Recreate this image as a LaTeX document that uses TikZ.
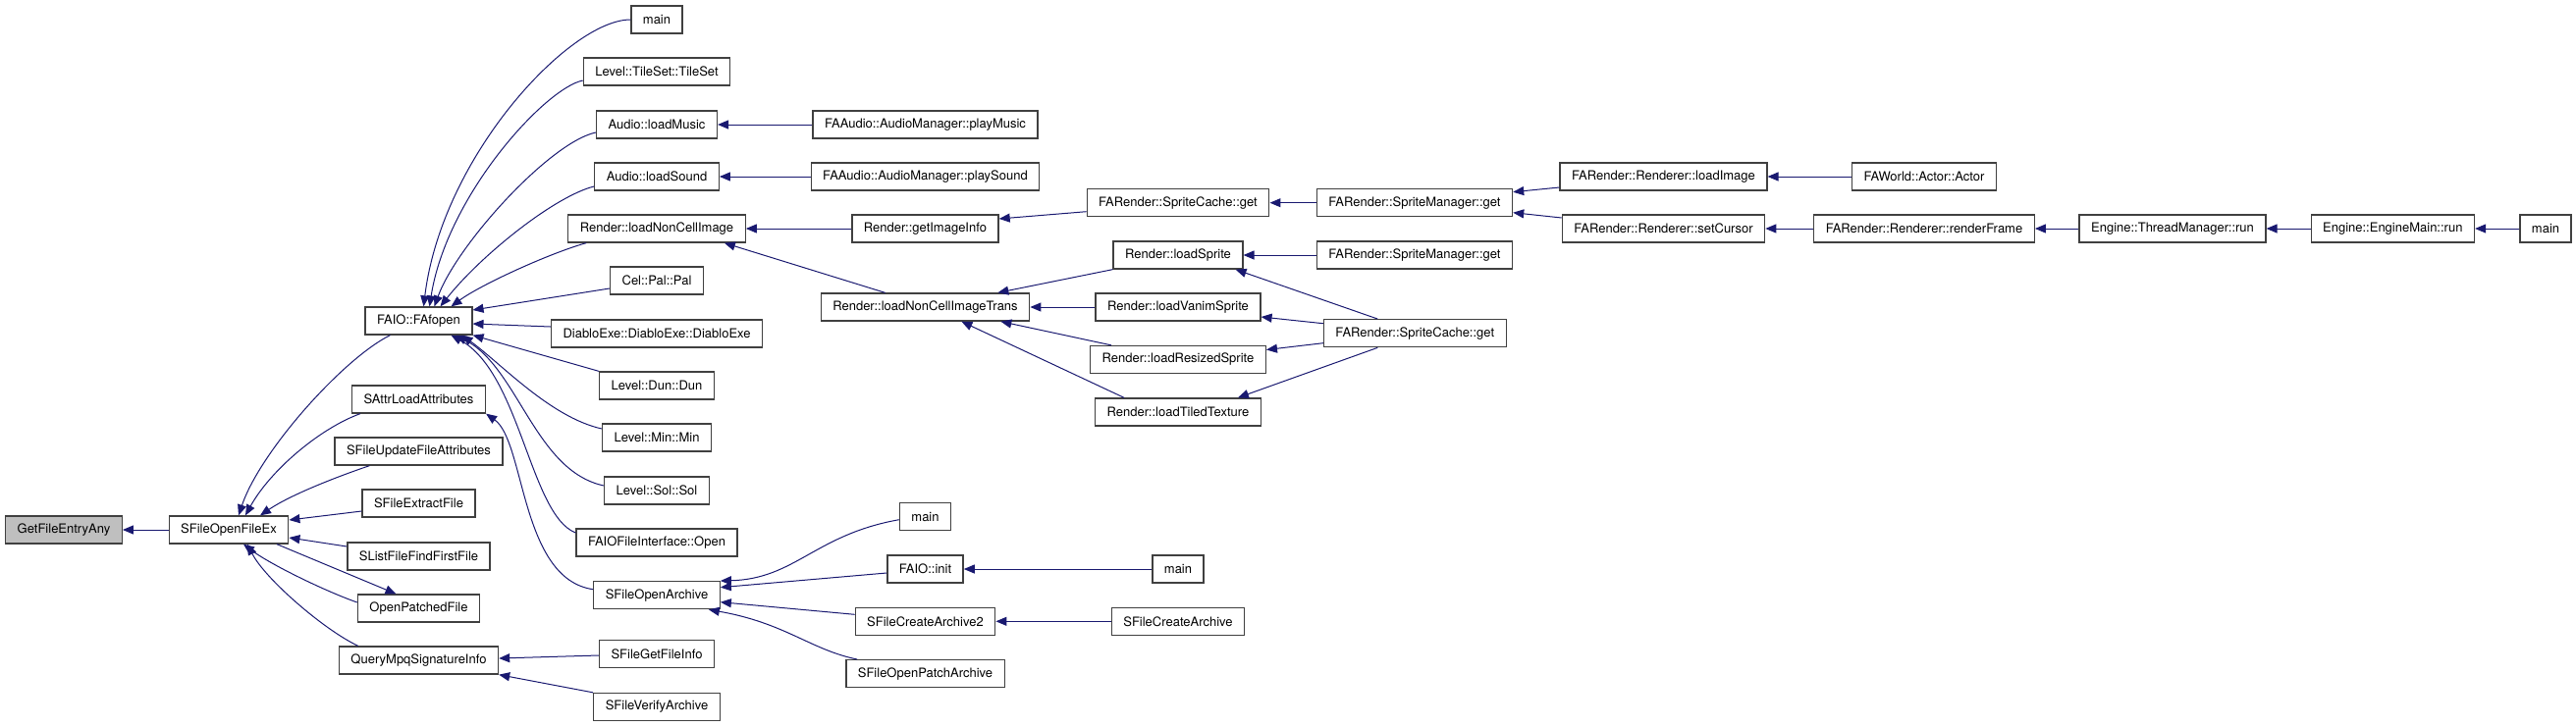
\documentclass[tikz,border=0pt]{standalone}
\usepackage{fontspec}
\setmainfont{TeX Gyre Heros}
\usepackage{tikz}
\usetikzlibrary{arrows.meta}
\definecolor{CallBlue}{HTML}{191970}
\definecolor{BoxLine}{HTML}{404040}
\definecolor{RootFill}{HTML}{BFBFBF}
\tikzset{
  fnbox/.style={draw=BoxLine,line width=1.3pt,fill=white,rectangle,inner xsep=12pt,
    inner ysep=0pt,minimum height=28pt,font=\fontsize{13}{15}\selectfont},
  rootbox/.style={fnbox,fill=RootFill},
  callflow/.style={-{Triangle[length=11pt,width=9pt]},line width=1pt,draw=CallBlue}
}

\begin{document}
\begin{tikzpicture}[x=1pt,y=1pt]
  \useasboundingbox (0,0) rectangle (2624,-740);
  % columns 0-2
  \node[rootbox] (gfe) at (65,-540) {GetFileEntryAny};
  \node[fnbox] (sopen) at (233,-540) {SFileOpenFileEx};
  \node[fnbox] (fafopen) at (426.5,-327) {FAIO::FAfopen};
  \node[fnbox] (sattr) at (426.5,-407) {SAttrLoadAttributes};
  \node[fnbox] (supd) at (426.5,-460) {SFileUpdateFileAttributes};
  \node[fnbox] (sextr) at (426.5,-513) {SFileExtractFile};
  \node[fnbox] (slist) at (426.5,-567) {SListFileFindFirstFile};
  \node[fnbox] (opatch) at (426.5,-620) {OpenPatchedFile};
  \node[fnbox] (qmpq) at (426.5,-673) {QueryMpqSignatureInfo};
  % column 3
  \node[fnbox] (mainA) at (669,-20) {main};
  \node[fnbox] (tileset) at (669,-73) {Level::TileSet::TileSet};
  \node[fnbox] (lmusic) at (669,-127) {Audio::loadMusic};
  \node[fnbox] (lsound) at (669,-180) {Audio::loadSound};
  \node[fnbox] (lnci) at (669,-233) {Render::loadNonCellImage};
  \node[fnbox] (celpal) at (669,-286) {Cel::Pal::Pal};
  \node[fnbox] (diablo) at (669,-340) {DiabloExe::DiabloExe::DiabloExe};
  \node[fnbox] (dun) at (669,-393) {Level::Dun::Dun};
  \node[fnbox] (min) at (669,-446) {Level::Min::Min};
  \node[fnbox] (sol) at (669,-500) {Level::Sol::Sol};
  \node[fnbox] (faiofi) at (669,-553) {FAIOFileInterface::Open};
  \node[fnbox] (soarch) at (669,-606.7) {SFileOpenArchive};
  \node[fnbox] (sgfi) at (669,-666.5) {SFileGetFileInfo};
  \node[fnbox] (sver) at (669,-720.5) {SFileVerifyArchive};
  % column 4
  \node[fnbox] (pmusic) at (942.5,-127) {FAAudio::AudioManager::playMusic};
  \node[fnbox] (psound) at (942.5,-180) {FAAudio::AudioManager::playSound};
  \node[fnbox] (gii) at (942.5,-233) {Render::getImageInfo};
  \node[fnbox] (lncit) at (942.5,-313) {Render::loadNonCellImageTrans};
  \node[fnbox] (mainB) at (942.5,-526.7) {main};
  \node[fnbox] (faioinit) at (942.5,-580) {FAIO::init};
  \node[fnbox] (scarch2) at (942.5,-633.3) {SFileCreateArchive2};
  \node[fnbox] (sopatch) at (942.5,-686.7) {SFileOpenPatchArchive};
  % column 5
  \node[fnbox] (scget) at (1200,-206.7) {FARender::SpriteCache::get};
  \node[fnbox] (lsprite) at (1200,-260) {Render::loadSprite};
  \node[fnbox] (lvanim) at (1200,-313) {Render::loadVanimSprite};
  \node[fnbox] (lresized) at (1200,-366.5) {Render::loadResizedSprite};
  \node[fnbox] (ltiled) at (1200,-420) {Render::loadTiledTexture};
  \node[fnbox] (mainC) at (1200,-580) {main};
  \node[fnbox] (scarch) at (1200,-633.3) {SFileCreateArchive};
  % columns 6-11
  \node[fnbox] (smget) at (1441,-206.7) {FARender::SpriteManager::get};
  \node[fnbox] (smget2) at (1441,-260) {FARender::SpriteManager::get};
  \node[fnbox] (scget2) at (1441.3,-339.7) {FARender::SpriteCache::get};
  \node[fnbox] (limage) at (1694.5,-180) {FARender::Renderer::loadImage};
  \node[fnbox] (scursor) at (1694.5,-233) {FARender::Renderer::setCursor};
  \node[fnbox] (actor) at (1960,-180) {FAWorld::Actor::Actor};
  \node[fnbox] (rframe) at (1960,-233) {FARender::Renderer::renderFrame};
  \node[fnbox] (tmrun) at (2213,-233) {Engine::ThreadManager::run};
  \node[fnbox] (emrun) at (2437.3,-233) {Engine::EngineMain::run};
  \node[fnbox] (mainD) at (2593,-233) {main};

  % callers of SFileOpenFileEx
  \draw[callflow] (sopen) -- (gfe);
  \draw[callflow] ([xshift=26pt]fafopen.south west) .. controls (350,-365) and (265,-460) .. ([xshift=10pt]sopen.north);
  \draw[callflow] ([xshift=9pt]sattr.south west) .. controls (325,-437) and (275,-480) .. ([xshift=17pt]sopen.north);
  \draw[callflow] ([xshift=36pt]supd.south west) .. controls (340,-487) and (295,-505) .. ([xshift=32pt]sopen.north);
  \draw[callflow] ([yshift=-8pt]sextr.west) -- ([yshift=10pt]sopen.east);
  \draw[callflow] ([yshift=10pt]slist.west) -- ([yshift=-8pt]sopen.east);
  \draw[callflow] ([yshift=6pt]opatch.west) .. controls (330,-602) and (275,-575) .. ([xshift=15pt]sopen.south);
  \draw[callflow] ([xshift=49pt]sopen.south) -- ([xshift=-23pt]opatch.north);
  \draw[callflow] ([xshift=20pt]qmpq.north west) .. controls (330,-642) and (270,-590) .. ([xshift=19pt]sopen.south);

  % callers of FAIO::FAfopen
  \draw[callflow] (mainA.west) .. controls (580,-20) and (450,-160) .. ([xshift=5pt]fafopen.north);
  \draw[callflow] ([yshift=-9pt]tileset.west) .. controls (555,-90) and (455,-200) .. ([xshift=11pt]fafopen.north);
  \draw[callflow] ([yshift=-8pt]lmusic.west) .. controls (560,-145) and (465,-250) .. ([xshift=16pt]fafopen.north);
  \draw[callflow] ([yshift=-10pt]lsound.west) .. controls (565,-200) and (490,-260) .. ([xshift=22pt]fafopen.north);
  \draw[callflow] ([xshift=19pt]lnci.south west) .. controls (560,-258) and (490,-290) .. ([xshift=33pt]fafopen.north);
  \draw[callflow] ([yshift=-8pt]celpal.west) -- ([yshift=11pt]fafopen.east);
  \draw[callflow] ([yshift=7pt]diablo.west) -- ([yshift=-3pt]fafopen.east);
  \draw[callflow] (dun.north west) -- (fafopen.south east);
  \draw[callflow] ([yshift=9pt]min.west) .. controls (560,-425) and (510,-370) .. ([xshift=44pt]fafopen.south);
  \draw[callflow] ([yshift=5pt]sol.west) .. controls (545,-480) and (528,-375) .. ([xshift=38pt]fafopen.south);
  \draw[callflow] ([yshift=10pt]faiofi.west) .. controls (540,-525) and (530,-380) .. ([xshift=33pt]fafopen.south);
  \draw[callflow] ([yshift=6pt]soarch.west) .. controls (530,-590) and (535,-450) .. (sattr.south east);
  \draw[callflow] ([yshift=-1.5pt]sgfi.west) -- ([yshift=2pt]qmpq.east);
  \draw[callflow] (sver.north west) -- (qmpq.south east);

  % render / audio chain
  \draw[callflow] (pmusic) -- (lmusic);
  \draw[callflow] (psound) -- (lsound);
  \draw[callflow] (gii) -- (lnci);
  \draw[callflow] ([xshift=66pt]lncit.north west) -- ([xshift=-22pt]lnci.south east);
  \draw[callflow] ([yshift=-9pt]scget.west) -- ([yshift=10pt]gii.east);
  \draw[callflow] (smget) -- (scget);
  \draw[callflow] ([yshift=-11pt]limage.west) -- ([yshift=11pt]smget.east);
  \draw[callflow] ([yshift=11pt]scursor.west) -- ([yshift=-10pt]smget.east);
  \draw[callflow] (actor) -- (limage);
  \draw[callflow] (rframe) -- (scursor);
  \draw[callflow] (tmrun) -- (rframe);
  \draw[callflow] (emrun) -- (tmrun);
  \draw[callflow] (mainD) -- (emrun);
  \draw[callflow] (lsprite.south west) -- ([xshift=-33pt]lncit.north east);
  \draw[callflow] (lvanim) -- (lncit);
  \draw[callflow] ([xshift=22pt]lresized.north west) -- ([xshift=-30pt]lncit.south east);
  \draw[callflow] ([xshift=30pt]ltiled.north west) -- ([xshift=-70pt]lncit.south east);
  \draw[callflow] (smget2) -- (lsprite);
  \draw[callflow] ([xshift=-38pt]scget2.north) -- ([xshift=-8pt]lsprite.south east);
  \draw[callflow] ([yshift=10pt]scget2.west) -- ([yshift=-10pt]lvanim.east);
  \draw[callflow] ([yshift=-10pt]scget2.west) -- ([yshift=10pt]lresized.east);
  \draw[callflow] ([xshift=-38pt]scget2.south) -- ([xshift=-24pt]ltiled.north east);

  % archive callers
  \draw[callflow] ([yshift=-3pt]mainB.west) .. controls (830,-545) and (810,-590) .. (soarch.north east);
  \draw[callflow] ([yshift=-4pt]faioinit.west) -- ([yshift=8pt]soarch.east);
  \draw[callflow] ([yshift=7pt]scarch2.west) -- ([yshift=-7pt]soarch.east);
  \draw[callflow] ([xshift=12pt]sopatch.north west) .. controls (825,-662) and (800,-635) .. ([xshift=-12pt]soarch.south east);
  \draw[callflow] (mainC) -- (faioinit);
  \draw[callflow] (scarch) -- (scarch2);
\end{tikzpicture}
\end{document}
